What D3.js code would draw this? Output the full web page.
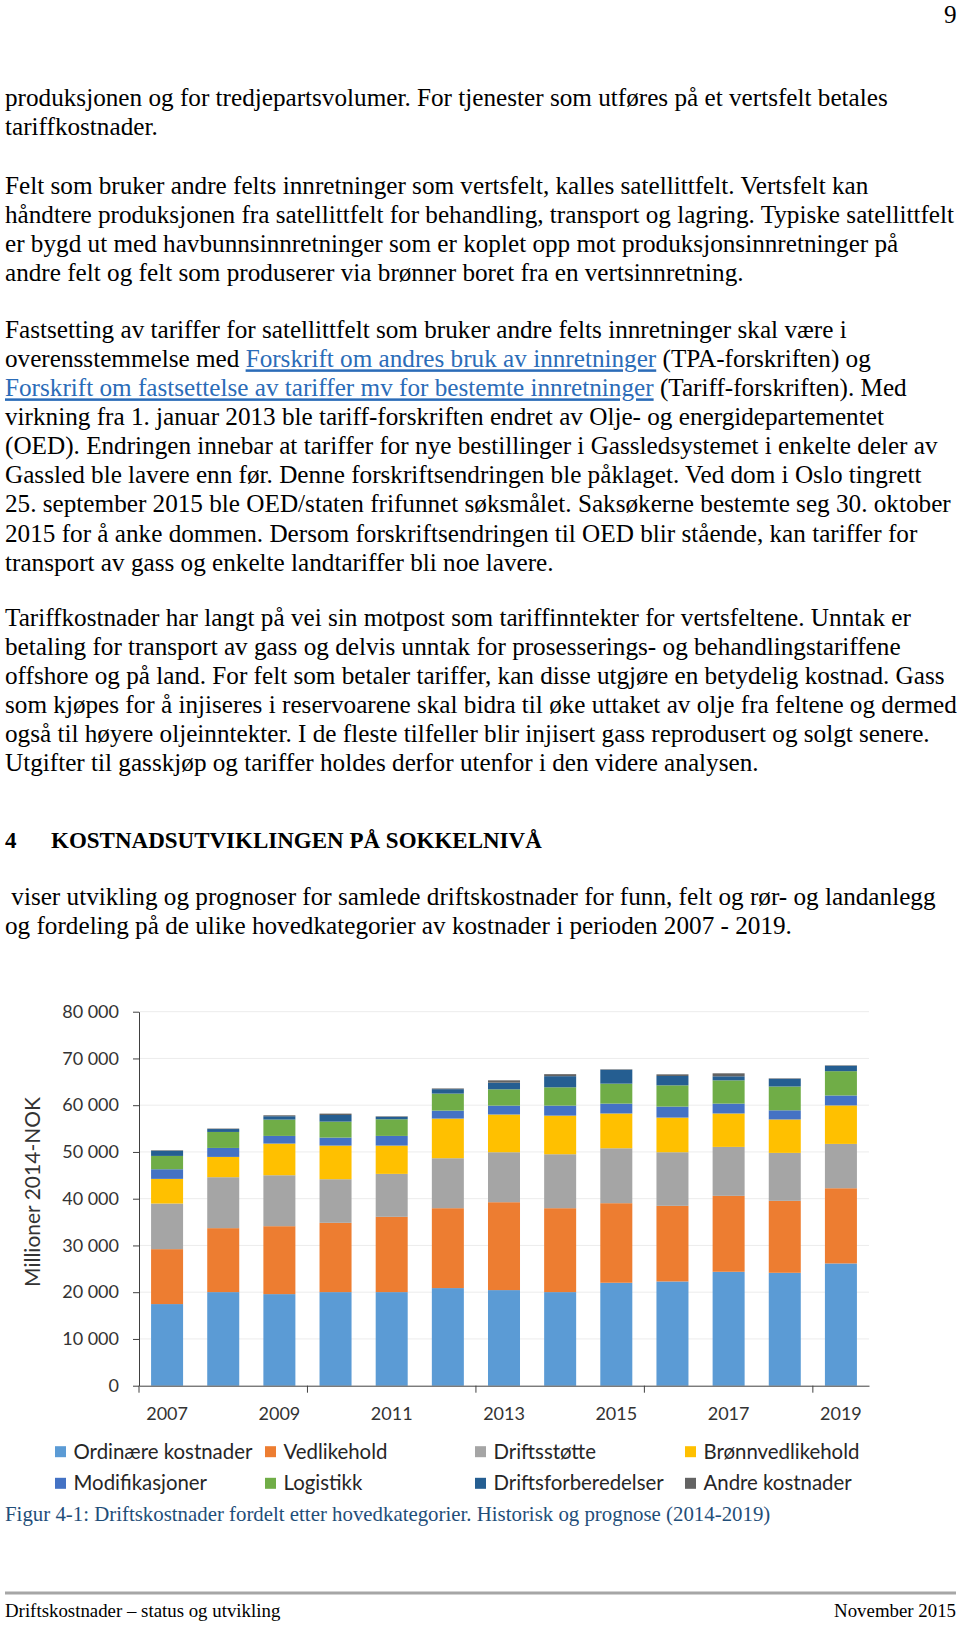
<!DOCTYPE html>
<html>
<head>
<meta charset="utf-8">
<script src="https://cdn.jsdelivr.net/npm/d3@7"></script>
<style>
  html, body { margin: 0; padding: 0; background: #fff; }
  svg { display: block; }
</style>
</head>
<body>
<svg id="page" width="960" height="1625"></svg>
<script>
// ---------- DATA ----------
const years = ["2007","2008","2009","2010","2011","2012","2013","2014","2015","2016","2017","2018","2019"];
const seriesNames = ["Ordinære kostnader","Vedlikehold","Driftsstøtte","Brønnvedlikehold","Modifikasjoner","Logistikk","Driftsforberedelser","Andre kostnader"];
const ordinaere        = [17460, 20020, 19590, 20020, 20020, 20880, 20450, 20020, 22020, 22300, 24370, 24150, 26150];
const vedlikehold      = [11750, 13680, 14530, 14820, 16100, 17090, 18800, 17950, 17020, 16170, 16240, 15390, 16090];
const driftsstotte     = [ 9760, 10900, 10900,  9330,  9190, 10690, 10690, 11540, 11750, 11470, 10470, 10260,  9480];
const bronnvedlikehold = [ 5270,  4340,  6770,  7190,  6050,  8480,  8070,  8260,  7440,  7410,  7150,  7150,  8230];
const modifikasjoner   = [ 2060,  1920,  1640,  1710,  2070,  1700,  1900,  2140,  2110,  2350,  2110,  1960,  2130];
const logistikk        = [ 2850,  3420,  3490,  3420,  3560,  3640,  3490,  3920,  4270,  4550,  4980,  5090,  5200];
const driftsforb       = [ 1120,   620,   720,  1410,   540,   950,  1420,  2380,  2970,  2000,   860,  1650,  1150];
const andre            = [  100,   100,   200,   300,   100,   150,   500,   430,   100,   350,   640,   100,   100];
const yTicks = [0, 10000, 20000, 30000, 40000, 50000, 60000, 70000, 80000];
const xLabelYears = ["2007","2009","2011","2013","2015","2017","2019"];
const yTitle = "Millioner 2014-NOK";
const caption = "Figur 4-1: Driftskostnader fordelt etter hovedkategorier. Historisk og prognose (2014-2019)";

const colors = ["#5B9BD5","#ED7D31","#A5A5A5","#FFC000","#4472C4","#70AD47","#255E91","#636363"];

// ---------- PAGE TEXT ----------
const para1 = [
  [["produksjonen og for tredjepartsvolumer. For tjenester som utføres på et vertsfelt betales"]],
  [["tariffkostnader."]]
];
const para2 = [
  [["Felt som bruker andre felts innretninger som vertsfelt, kalles satellittfelt. Vertsfelt kan"]],
  [["håndtere produksjonen fra satellittfelt for behandling, transport og lagring. Typiske satellittfelt"]],
  [["er bygd ut med havbunnsinnretninger som er koplet opp mot produksjonsinnretninger på"]],
  [["andre felt og felt som produserer via brønner boret fra en vertsinnretning."]]
];
const para3 = [
  [["Fastsetting av tariffer for satellittfelt som bruker andre felts innretninger skal være i"]],
  [["overensstemmelse med "],["Forskrift om andres bruk av innretninger",1],[" (TPA-forskriften) og"]],
  [["Forskrift om fastsettelse av tariffer mv for bestemte innretninger",1],[" (Tariff-forskriften). Med"]],
  [["virkning fra 1. januar 2013 ble tariff-forskriften endret av Olje- og energidepartementet"]],
  [["(OED). Endringen innebar at tariffer for nye bestillinger i Gassledsystemet i enkelte deler av"]],
  [["Gassled ble lavere enn før. Denne forskriftsendringen ble påklaget. Ved dom i Oslo tingrett"]],
  [["25. september 2015 ble OED/staten frifunnet søksmålet. Saksøkerne bestemte seg 30. oktober"]],
  [["2015 for å anke dommen. Dersom forskriftsendringen til OED blir stående, kan tariffer for"]],
  [["transport av gass og enkelte landtariffer bli noe lavere."]]
];
const para4 = [
  [["Tariffkostnader har langt på vei sin motpost som tariffinntekter for vertsfeltene. Unntak er"]],
  [["betaling for transport av gass og delvis unntak for prosesserings- og behandlingstariffene"]],
  [["offshore og på land. For felt som betaler tariffer, kan disse utgjøre en betydelig kostnad. Gass"]],
  [["som kjøpes for å injiseres i reservoarene skal bidra til øke uttaket av olje fra feltene og dermed"]],
  [["også til høyere oljeinntekter. I de fleste tilfeller blir injisert gass reprodusert og solgt senere."]],
  [["Utgifter til gasskjøp og tariffer holdes derfor utenfor i den videre analysen."]]
];
const para5 = [
  [["\u00A0viser utvikling og prognoser for samlede driftskostnader for funn, felt og rør- og landanlegg"]],
  [["og fordeling på de ulike hovedkategorier av kostnader i perioden 2007 - 2019."]]
];

const svg = d3.select("#page");
const serif = "'Liberation Serif', 'Times New Roman', serif";
const sans = "Lato, 'Open Sans', sans-serif";
const bodySize = 25.2;
const lineH = 29.03;

function drawPara(lines, y0) {
  lines.forEach((segs, i) => {
    const t = svg.append("text")
      .attr("x", 5).attr("y", y0 + i * lineH)
      .attr("font-family", serif).attr("font-size", bodySize)
      .attr("fill", "#000")
      .style("white-space", "pre");
    segs.forEach(s => {
      const ts = t.append("tspan").text(s[0]);
      if (s[1]) ts.attr("fill", "#2B6CB8").style("text-decoration", "underline");
    });
  });
}

// page number
svg.append("text").attr("x", 944).attr("y", 22.5)
  .attr("font-family", serif).attr("font-size", bodySize).text("9");

drawPara(para1, 106);
drawPara(para2, 194);
drawPara(para3, 338.3);
drawPara(para4, 626);

// heading
svg.append("text").attr("x", 5).attr("y", 848)
  .attr("font-family", serif).attr("font-size", 23).attr("font-weight", "bold").text("4");
svg.append("text").attr("x", 51).attr("y", 848)
  .attr("font-family", serif).attr("font-size", 23).attr("font-weight", "bold")
  .text("KOSTNADSUTVIKLINGEN PÅ SOKKELNIVÅ");

drawPara(para5, 905);

// ---------- CHART ----------
const x0 = 139, x1 = 869, yTop = 1011.7, yBot = 1385.7;
const x = d3.scaleBand().domain(years).range([x0, x1]).paddingInner(0.43).paddingOuter(0.215);
const y = d3.scaleLinear().domain([0, 80000]).range([yBot, yTop]);
const color = d3.scaleOrdinal().domain(seriesNames).range(colors);

const allSeries = [ordinaere, vedlikehold, driftsstotte, bronnvedlikehold, modifikasjoner, logistikk, driftsforb, andre];
const table = years.map((yr, i) => {
  const row = { year: yr };
  seriesNames.forEach((n, k) => row[n] = allSeries[k][i]);
  return row;
});
const stacked = d3.stack().keys(seriesNames)(table);

// gridlines
svg.append("g").selectAll("line").data(yTicks.filter(v => v > 0)).join("line")
  .attr("x1", x0).attr("x2", x1)
  .attr("y1", d => y(d)).attr("y2", d => y(d))
  .attr("stroke", "#ececec").attr("stroke-width", 1);

// bars
svg.append("g").selectAll("g").data(stacked).join("g")
  .attr("fill", d => color(d.key))
  .selectAll("rect").data(d => d).join("rect")
  .attr("x", d => x(d.data.year))
  .attr("width", x.bandwidth())
  .attr("y", d => y(d[1]))
  .attr("height", d => y(d[0]) - y(d[1]));

// y axis
const fmtLocale = d3.formatLocale({ decimal: ",", thousands: " ", grouping: [3], currency: ["", ""] });
const yAxis = d3.axisLeft(y).tickValues(yTicks).tickFormat(fmtLocale.format(",")).tickSize(6).tickSizeOuter(0).tickPadding(14);
const gy = svg.append("g").attr("transform", `translate(${x0},0)`).call(yAxis);
gy.select(".domain").attr("stroke", "#404040");
gy.selectAll(".tick line").attr("stroke", "#404040");
gy.selectAll("text").attr("font-family", sans).attr("font-size", 18).attr("fill", "#333");

// x axis (labels)
const xAxis = d3.axisBottom(x).tickValues(xLabelYears).tickSize(0).tickSizeOuter(0).tickPadding(22);
const gx = svg.append("g").attr("transform", `translate(0,${yBot})`).call(xAxis);
gx.select(".domain").attr("stroke", "#404040");
gx.selectAll("text").attr("font-family", sans).attr("font-size", 18).attr("fill", "#333");

// x tick marks at every third category boundary
const boundaryIdx = [0, 3, 6, 9, 12];
svg.append("g").selectAll("line").data(boundaryIdx).join("line")
  .attr("x1", i => i === 0 ? x0 : x(years[i]) - (x.step() - x.bandwidth()) / 2)
  .attr("x2", i => i === 0 ? x0 : x(years[i]) - (x.step() - x.bandwidth()) / 2)
  .attr("y1", yBot).attr("y2", yBot + 7)
  .attr("stroke", "#404040").attr("stroke-width", 1);

// y title
svg.append("text")
  .attr("transform", `translate(40,1192) rotate(-90)`)
  .attr("text-anchor", "middle")
  .attr("font-family", sans).attr("font-size", 21).attr("fill", "#333")
  .text(yTitle);

// legend
const legX = [55, 265, 475, 685];
const legY = [1451.7, 1483.3];
const leg = svg.append("g").selectAll("g").data(seriesNames).join("g")
  .attr("transform", (d, i) => `translate(${legX[i % 4]},${legY[Math.floor(i / 4)]})`);
leg.append("rect").attr("x", 0).attr("y", -5.5).attr("width", 11).attr("height", 11)
  .attr("fill", d => color(d));
leg.append("text").attr("x", 18.5).attr("dy", "0.35em")
  .attr("font-family", sans).attr("font-size", 20.4).attr("fill", "#262626")
  .text(d => d);

// caption
svg.append("text").attr("x", 5).attr("y", 1521)
  .attr("font-family", serif).attr("font-size", 20.85).attr("fill", "#1F4E79")
  .text(caption);

// footer
svg.append("rect").attr("x", 5).attr("y", 1591.5).attr("width", 951).attr("height", 3).attr("fill", "#a6a6a6");
svg.append("text").attr("x", 5).attr("y", 1617)
  .attr("font-family", serif).attr("font-size", 18.85).text("Driftskostnader – status og utvikling");
svg.append("text").attr("x", 956).attr("y", 1617).attr("text-anchor", "end")
  .attr("font-family", serif).attr("font-size", 18.85).text("November 2015");
</script>
</body>
</html>
